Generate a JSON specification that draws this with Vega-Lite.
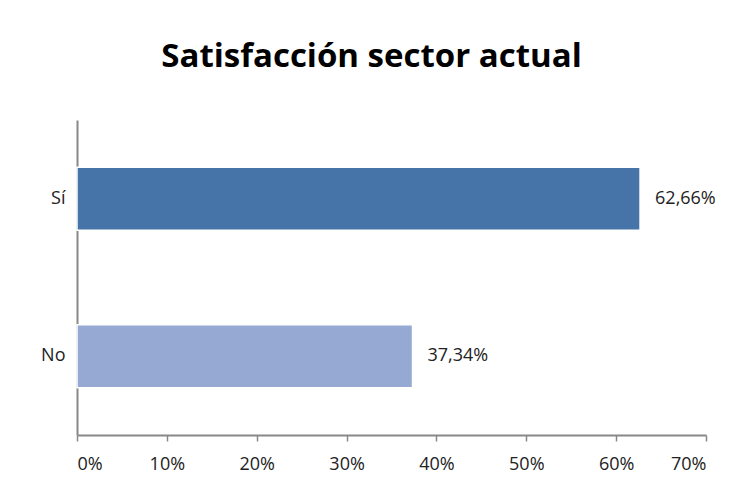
{
  "$schema": "https://vega.github.io/schema/vega-lite/v6.json",
  "width": 629,
  "height": 315,
  "autosize": {"type": "none"},
  "padding": {"left": 77, "top": 120, "right": 39, "bottom": 60},
  "background": "white",
  "config": {
    "locale": {"number": {"decimal": ",", "thousands": ".", "grouping": [3], "currency": ["", " €"]}},
    "view": {"stroke": null},
    "font": "Open Sans"
  },
  "title": {
    "text": "Satisfacción sector actual",
    "font": "Open Sans",
    "fontSize": 33,
    "fontWeight": "bold",
    "color": "#000000",
    "anchor": "middle",
    "dx": -20,
    "offset": 46
  },
  "data": {
    "values": [
      {"respuesta": "Sí", "porcentaje": 0.6266},
      {"respuesta": "No", "porcentaje": 0.3734}
    ]
  },
  "encoding": {
    "y": {
      "field": "respuesta",
      "type": "nominal",
      "sort": ["Sí", "No"],
      "scale": {"paddingInner": 0.6, "paddingOuter": 0.3},
      "axis": {
        "title": null,
        "ticks": false,
        "domainColor": "#888888",
        "domainWidth": 2,
        "labelFontSize": 18,
        "labelColor": "#222222",
        "labelPadding": 12,
        "labelFont": "Open Sans"
      }
    },
    "x": {
      "field": "porcentaje",
      "type": "quantitative",
      "scale": {"domain": [0, 0.7], "nice": false},
      "axis": {
        "title": null,
        "format": ".0%",
        "values": [0, 0.1, 0.2, 0.3, 0.4, 0.5, 0.6, 0.7],
        "grid": false,
        "domainColor": "#888888",
        "domainWidth": 2,
        "tickColor": "#888888",
        "tickWidth": 1.5,
        "tickSize": 6,
        "labelFontSize": 18,
        "labelColor": "#222222",
        "labelPadding": 14,
        "labelFont": "Open Sans"
      }
    }
  },
  "layer": [
    {
      "mark": {"type": "bar", "stroke": "#ffffff", "strokeWidth": 1.5},
      "encoding": {
        "color": {
          "field": "respuesta",
          "type": "nominal",
          "scale": {"domain": ["Sí", "No"], "range": ["#4673A8", "#95A9D2"]},
          "legend": null
        }
      }
    },
    {
      "mark": {"type": "text", "align": "left", "dx": 15, "fontSize": 18, "color": "#222222", "font": "Open Sans"},
      "encoding": {
        "text": {"field": "porcentaje", "type": "quantitative", "format": ".2%"}
      }
    }
  ]
}
